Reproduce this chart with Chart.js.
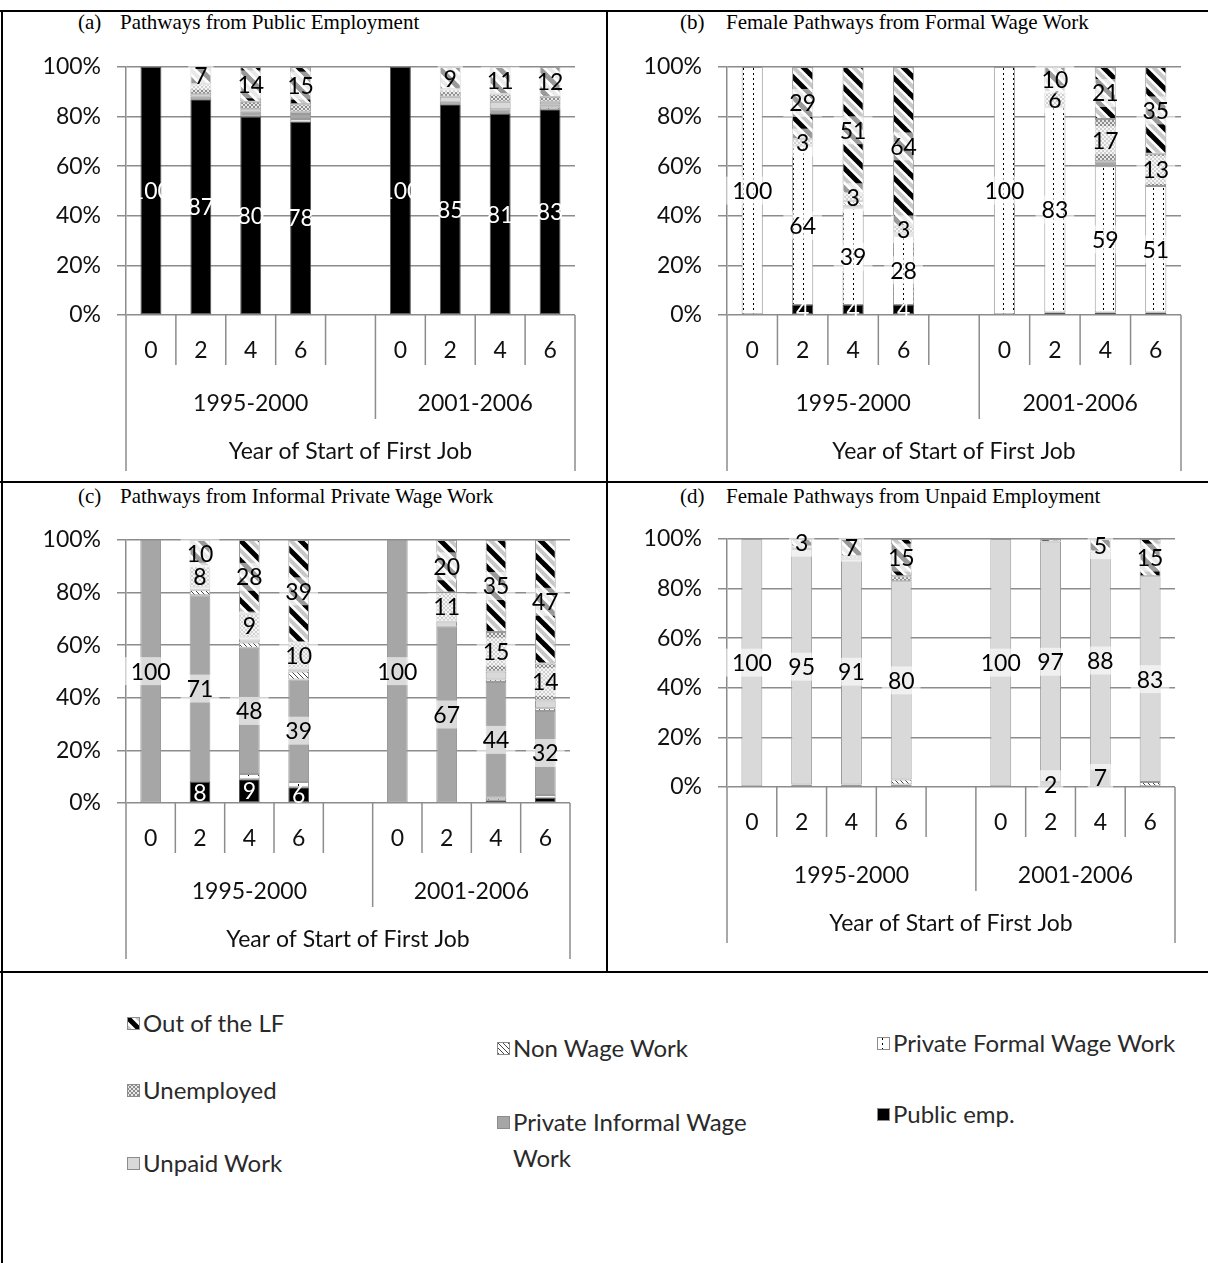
<!DOCTYPE html>
<html>
<head>
<meta charset="utf-8">
<script src="https://cdn.jsdelivr.net/npm/chart.js@4.4.1/dist/chart.umd.min.js"></script>
<style>
  html, body { margin: 0; padding: 0; background: #fff; }
  body { width: 1208px; height: 1263px; position: relative; overflow: hidden; font-family: Lato, sans-serif; }
  .rule { position: absolute; background: #000; }
  .ptitle { position: absolute; font-family: "Liberation Serif", serif; font-size: 21px; line-height: 21px; color: #000; white-space: nowrap; }
  canvas.panel { position: absolute; }
  .leg { position: absolute; font-family: Lato, sans-serif; font-size: 24px; line-height: 36px; color: #2a2a2a; white-space: nowrap; }
  .leg canvas { position: absolute; left: 0; top: 12px; }
  .leg span { position: absolute; left: 16px; top: 0; }
</style>
</head>
<body>

<!-- table rules -->
<div class="rule" style="left:0;top:10px;width:1208px;height:2px"></div>
<div class="rule" style="left:1px;top:10px;width:2px;height:1253px"></div>
<div class="rule" style="left:606px;top:10px;width:2px;height:962px"></div>
<div class="rule" style="left:0;top:481px;width:1208px;height:2px"></div>
<div class="rule" style="left:0;top:971px;width:1208px;height:2px"></div>

<div class="ptitle" style="left:78px;top:12px">(a)</div>
<div class="ptitle" style="left:120px;top:12px">Pathways from Public Employment</div>
<div class="ptitle" style="left:680px;top:12px">(b)</div>
<div class="ptitle" style="left:726px;top:12px">Female Pathways from Formal Wage Work</div>
<div class="ptitle" style="left:78px;top:486px">(c)</div>
<div class="ptitle" style="left:120px;top:486px">Pathways from Informal Private Wage Work</div>
<div class="ptitle" style="left:680px;top:486px">(d)</div>
<div class="ptitle" style="left:726px;top:486px">Female Pathways from Unpaid Employment</div>

<canvas id="chartA" class="panel" width="604" height="470" style="left:3px;top:12px"></canvas>
<canvas id="chartB" class="panel" width="599" height="470" style="left:608px;top:12px"></canvas>
<canvas id="chartC" class="panel" width="604" height="488" style="left:3px;top:483px"></canvas>
<canvas id="chartD" class="panel" width="599" height="488" style="left:608px;top:483px"></canvas>

<div id="legend"></div>

<script>
// ---- categories ----
const slotYears = ['0', '2', '4', '6', '', '0', '2', '4', '6'];
const slotCohort = [0, 0, 0, 0, 0, 1, 1, 1, 1];
const cohorts = ['1995-2000', '2001-2006'];
const axisTitle = 'Year of Start of First Job';
const yTicks = [0, 20, 40, 60, 80, 100];

// ---- series (stacked bottom to top) ----
const seriesKeys = ['public', 'formal', 'informal', 'nonwage', 'unpaid', 'unemp', 'outlf'];
const seriesNames = ['Public emp.', 'Private Formal Wage Work', 'Private Informal Wage Work',
                     'Non Wage Work', 'Unpaid Work', 'Unemployed', 'Out of the LF'];

// (a) Pathways from Public Employment
const aPublic   = [100, 87, 80, 78, null, 100, 85, 81, 83];
const aFormal   = [0, 0, 0, 1, null, 0, 0, 0, 1];
const aInformal = [0, 1, 2, 2, null, 0, 1, 2, 1];
const aNonWage  = [0, 0, 0, 0, null, 0, 0, 0, 0];
const aUnpaid   = [0, 1, 1, 1, null, 0, 2, 3, 1];
const aUnemp    = [0, 4, 3, 3, null, 0, 3, 3, 2];
const aOutLF    = [0, 7, 14, 15, null, 0, 9, 11, 12];

// (b) Female Pathways from Formal Wage Work
const bPublic   = [0, 4, 4, 4, null, 0, 1, 1, 1];
const bFormal   = [100, 64, 39, 28, null, 100, 83, 59, 51];
const bInformal = [0, 0, 1, 1, null, 0, 0, 2, 0];
const bNonWage  = [0, 0, 2, 0, null, 0, 0, 0, 0];
const bUnpaid   = [0, 0, 0, 0, null, 0, 0, 0, 0];
const bUnemp    = [0, 3, 3, 3, null, 0, 6, 17, 13];
const bOutLF    = [0, 29, 51, 64, null, 0, 10, 21, 35];

// (c) Pathways from Informal Private Wage Work
const cPublic   = [0, 8, 9, 6, null, 0, 0, 1, 2];
const cFormal   = [0, 0, 2, 2, null, 0, 0, 1, 1];
const cInformal = [100, 71, 48, 39, null, 100, 67, 44, 32];
const cNonWage  = [0, 2, 2, 3, null, 0, 0, 1, 1];
const cUnpaid   = [0, 1, 2, 1, null, 0, 2, 3, 3];
const cUnemp    = [0, 8, 9, 10, null, 0, 11, 15, 14];
const cOutLF    = [0, 10, 28, 39, null, 0, 20, 35, 47];

// (d) Female Pathways from Unpaid Employment
const dPublic   = [0, 0, 0, 0, null, 0, 0, 0, 0];
const dFormal   = [0, 0, 0, 0, null, 0, 0, 0, 0];
const dInformal = [0, 1, 1, 1, null, 0, 2, 7, 0];
const dNonWage  = [0, 0, 0, 2, null, 0, 0, 0, 2];
const dUnpaid   = [100, 95, 91, 80, null, 100, 97, 88, 83];
const dUnemp    = [0, 1, 1, 2, null, 0, 0, 0, 0];
const dOutLF    = [0, 3, 7, 15, null, 0, 1, 5, 15];

// ---- fills ----
function tile(w, h, paint) {
  const c = document.createElement('canvas');
  c.width = w; c.height = h;
  const g = c.getContext('2d');
  g.fillStyle = '#fff'; g.fillRect(0, 0, w, h);
  paint(g);
  return c;
}
function makeFill(key) {
  const g0 = document.createElement('canvas').getContext('2d');
  switch (key) {
    case 'public': return '#000000';
    case 'informal': return '#a6a6a6';
    case 'unpaid': return '#d9d9d9';
    case 'formal': return g0.createPattern(tile(10, 5, g => {
      g.fillStyle = '#000'; g.fillRect(5, 1, 1, 2);
    }), 'repeat');
    case 'nonwage': return g0.createPattern(tile(5, 5, g => {
      g.fillStyle = '#444';
      for (let i = 0; i < 5; i++) g.fillRect(i, i, 1, 1);
    }), 'repeat');
    case 'unemp': return g0.createPattern(tile(4, 4, g => {
      g.fillStyle = '#e8e8e8'; g.fillRect(0, 0, 4, 4);
      g.fillStyle = '#8c8c8c'; g.fillRect(0, 0, 2, 2); g.fillRect(2, 2, 2, 2);
    }), 'repeat');
    case 'outlf': return g0.createPattern(tile(20, 20, g => {
      g.lineCap = 'square';
      g.strokeStyle = '#c8c8c8'; g.lineWidth = 4;
      for (const o of [-30, -10, 10]) { g.beginPath(); g.moveTo(o, 0); g.lineTo(o + 20, 20); g.stroke(); }
      g.strokeStyle = '#000'; g.lineWidth = 5;
      for (const o of [-20, 0, 20]) { g.beginPath(); g.moveTo(o, 0); g.lineTo(o + 20, 20); g.stroke(); }
    }), 'repeat');
  }
}
const fills = seriesKeys.map(makeFill);

// ---- segment value labels ----
const segLabels = {
  id: 'segLabels',
  afterDatasetsDraw(chart, args, opts) {
    const ctx = chart.ctx;
    ctx.save();
    ctx.font = '23px Lato';
    ctx.textAlign = 'center';
    ctx.textBaseline = 'middle';
    chart.data.datasets.forEach((ds, di) => {
      if (!opts.series.includes(ds.key)) return;
      const meta = chart.getDatasetMeta(di);
      meta.data.forEach((bar, i) => {
        const v = ds.data[i];
        if (v == null || v < opts.min) return;
        const cy = (bar.y + bar.base) / 2;
        const txt = String(v);
        if (ds.key === 'public') {
          ctx.fillStyle = '#fff';
        } else {
          const w = ctx.measureText(txt).width + 12;
          ctx.fillStyle = 'rgba(255,255,255,0.6)';
          ctx.fillRect(bar.x - w / 2, cy - 14, w, 28);
          ctx.fillStyle = '#000';
        }
        ctx.fillText(txt, bar.x, cy + 1);
      });
    });
    ctx.restore();
  }
};

// ---- multi-level category axis (year / cohort / title) ----
const multiAxis = {
  id: 'multiAxis',
  afterDraw(chart, args, opts) {
    const { ctx, chartArea: { left, right, bottom } } = chart;
    const xs = chart.scales.x;
    const n = slotYears.length;
    const step = (right - left) / n;
    ctx.save();
    ctx.strokeStyle = '#8c8c8c';
    ctx.lineWidth = 1.5;
    for (let i = 0; i <= n; i++) {
      const bx = left + i * step;
      let len = opts.sepInner;
      if (i === 0 || i === n) len = opts.sepOuter;
      else if (slotCohort[i] !== slotCohort[i - 1]) len = opts.sepGroup;
      ctx.beginPath(); ctx.moveTo(bx, bottom); ctx.lineTo(bx, bottom + len); ctx.stroke();
    }
    ctx.fillStyle = '#111';
    ctx.font = '23px Lato';
    ctx.textAlign = 'center';
    ctx.textBaseline = 'middle';
    slotYears.forEach((lab, i) => { if (lab) ctx.fillText(lab, xs.getPixelForValue(i), bottom + opts.row1); });
    cohorts.forEach((lab, c) => {
      const idx = slotCohort.map((v, i) => v === c ? i : -1).filter(i => i >= 0);
      const x0 = left + idx[0] * step, x1 = left + (idx[idx.length - 1] + 1) * step;
      ctx.fillText(lab, (x0 + x1) / 2, bottom + opts.row2);
    });
    ctx.fillText(axisTitle, (left + right) / 2, bottom + opts.row3);
    ctx.restore();
  }
};

function buildChart(id, series, cfg) {
  const datasets = seriesKeys.map((key, i) => ({
    label: seriesNames[i], key, data: series[i],
    backgroundColor: fills[i],
    borderColor: key === 'public' ? '#555' : '#9a9a9a',
    borderWidth: 1, borderSkipped: false,
    barPercentage: 0.42, categoryPercentage: 1
  }));
  return new Chart(document.getElementById(id), {
    type: 'bar',
    data: { labels: slotYears, datasets },
    options: {
      responsive: false, animation: false,
      layout: { padding: { left: 0, right: cfg.padRight, top: cfg.padTop, bottom: cfg.padBottom } },
      plugins: {
        legend: { display: false }, tooltip: { enabled: false },
        segLabels: { series: cfg.labelled, min: cfg.minLabel },
        multiAxis: { row1: 36, row2: 89, row3: 137, sepInner: 50, sepGroup: 104, sepOuter: 156 }
      },
      scales: {
        x: { stacked: true, display: false },
        y: {
          stacked: true, min: 0, max: 100,
          afterFit(s) { s.width = cfg.axisWidth; },
          afterBuildTicks(s) { s.ticks = yTicks.map(v => ({ value: v })); },
          ticks: { callback: v => v + '%', font: { family: 'Lato', size: 23 }, color: '#111', padding: 16 },
          grid: { color: '#8c8c8c', lineWidth: 1.5, tickLength: 9, drawTicks: true },
          border: { display: true, color: '#8c8c8c', width: 1.5 }
        }
      }
    },
    plugins: [segLabels, multiAxis]
  });
}

buildChart('chartA', [aPublic, aFormal, aInformal, aNonWage, aUnpaid, aUnemp, aOutLF],
  { axisWidth: 123, padRight: 32, padTop: 55, padBottom: 167, labelled: ['public', 'outlf'], minLabel: 2 });
buildChart('chartB', [bPublic, bFormal, bInformal, bNonWage, bUnpaid, bUnemp, bOutLF],
  { axisWidth: 119, padRight: 26, padTop: 55, padBottom: 167, labelled: ['public', 'formal', 'unemp', 'outlf'], minLabel: 2 });
buildChart('chartC', [cPublic, cFormal, cInformal, cNonWage, cUnpaid, cUnemp, cOutLF],
  { axisWidth: 123, padRight: 37, padTop: 57, padBottom: 168, labelled: ['public', 'informal', 'unemp', 'outlf'], minLabel: 3 });
buildChart('chartD', [dPublic, dFormal, dInformal, dNonWage, dUnpaid, dUnemp, dOutLF],
  { axisWidth: 119, padRight: 32, padTop: 56, padBottom: 184, labelled: ['informal', 'unpaid', 'outlf'], minLabel: 2 });

// ---- legend ----
const legendPos = {
  outlf:    { x: 127, y: 1005, text: 'Out of the LF' },
  unemp:    { x: 127, y: 1072, text: 'Unemployed' },
  unpaid:   { x: 127, y: 1145, text: 'Unpaid Work' },
  nonwage:  { x: 497, y: 1030, text: 'Non Wage Work' },
  informal: { x: 497, y: 1104, text: 'Private Informal Wage<br>Work' },
  formal:   { x: 877, y: 1025, text: 'Private Formal Wage Work' },
  public:   { x: 877, y: 1096, text: 'Public emp.' }
};
const legendEl = document.getElementById('legend');
seriesKeys.forEach((key, i) => {
  const p = legendPos[key];
  const item = document.createElement('div');
  item.className = 'leg';
  item.style.left = p.x + 'px';
  item.style.top = p.y + 'px';
  const sw = document.createElement('canvas');
  sw.width = 13; sw.height = 13;
  const g = sw.getContext('2d');
  g.fillStyle = fills[i]; g.fillRect(0, 0, 13, 13);
  g.strokeStyle = '#8c8c8c'; g.lineWidth = 1; g.strokeRect(0.5, 0.5, 12, 12);
  const label = document.createElement('span');
  label.innerHTML = p.text;
  item.appendChild(sw); item.appendChild(label);
  legendEl.appendChild(item);
});
</script>
</body>
</html>
